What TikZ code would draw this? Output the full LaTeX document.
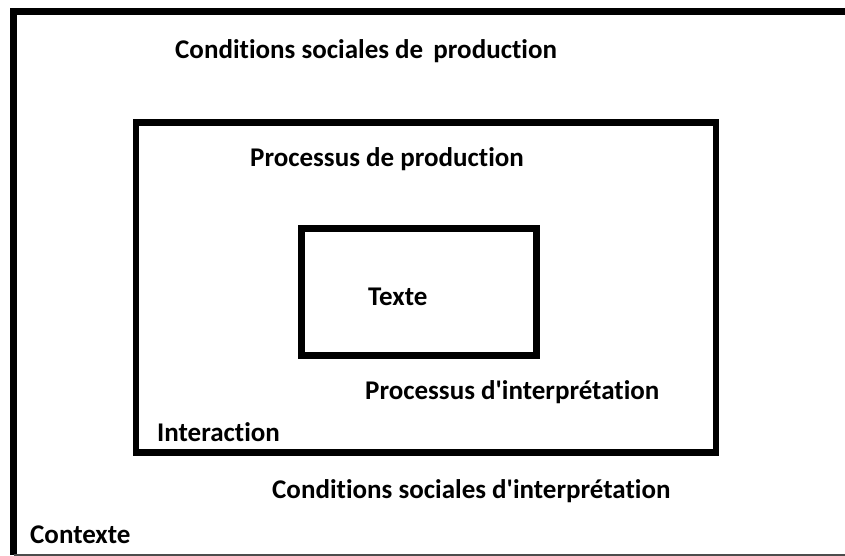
\documentclass[tikz,border=0pt]{standalone}
\usepackage{fontspec}
\setmainfont[RawFeature=-liga]{Carlito}
\usepackage{tikz}
\usetikzlibrary{positioning}

\tikzset{
  frame/.style={draw,line width=6.5pt,minimum width=#1},
  lbl/.style={anchor=base west,inner sep=0pt,font=\fontsize{27}{32}\selectfont\bfseries}
}

\begin{document}
\begin{tikzpicture}[x=1pt,y=-1pt]
      \useasboundingbox (0,0) rectangle (845,556);
      % Outer context frame (cut at the right)
      \coordinate (ctxbl) at (13.5,555);
      \coordinate (ctxtl) at (13.5,12);
      \coordinate (ctxtr) at (850,12);
      \coordinate (ctxbr) at (850,555);
      \draw[line width=7pt] (ctxbl) -- (ctxtl) -- (ctxtr);
      \draw[gray!60!black,line width=1.2pt] (ctxbl) -- (ctxbr);
      % Production box and text box
      \node[frame=580pt,minimum height=330pt] (prod) at (426,287.5) {};
      \node[frame=235pt,minimum height=126.5pt,line width=7pt] (texte) at (419,291.75) {};
      % Labels
      \node[lbl] (cprod) at (175,59) {Conditions sociales de\hspace{0.15em} production};
      \node[lbl] (pprod) at (250,167) {Processus de production};
      \node[lbl] (txt) at (368,305) {Texte};
      \node[lbl] (pinterp) at (365,399) {Processus d\textquotesingle interprétation};
      \node[lbl] (inter) at (157,441) {Interaction};
      \node[lbl] (cinterp) at (272,498) {Conditions sociales d\textquotesingle interprétation};
      \node[lbl] (ctx) at (30,543) {Contexte};
    \end{tikzpicture}
\end{document}
